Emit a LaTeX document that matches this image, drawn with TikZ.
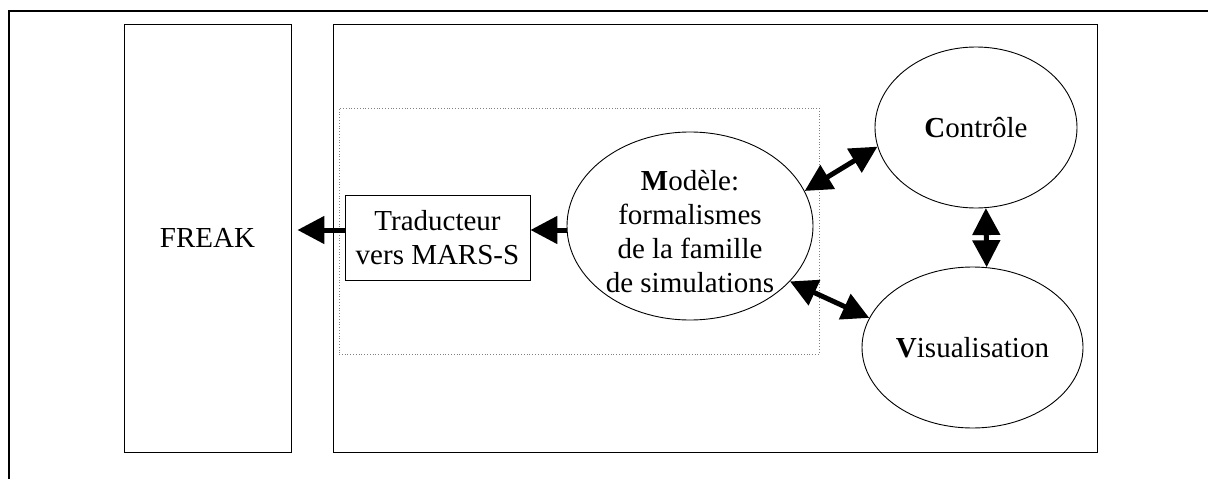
\documentclass[tikz,border=0pt]{standalone}
\usepackage{fontspec}
\setmainfont{Liberation Serif}
\usetikzlibrary{shapes.geometric,arrows.meta}
\begin{document}
\begin{tikzpicture}[x=1pt,y=-1pt,
  every node/.style={font=\fontsize{29}{34}\selectfont},
  box/.style={draw,line width=0.9pt,inner sep=0pt},
  oval/.style={draw,ellipse,line width=0.9pt,inner sep=0pt,align=center},
  tipk/.tip={Triangle[length=27pt 0 0,width=27pt 0 0]},
  conn/.style={line width=5pt,-tipk},
  bconn/.style={line width=5pt,tipk-tipk}]
\useasboundingbox (0,0) rectangle (1208,479);
% outer frame (top and left only)
\coordinate (ftl) at (9,11);
\coordinate (ftr) at (1210,11);
\coordinate (fbl) at (9,481);
\draw[line width=2.5pt] (ftr) -- (ftl) -- (fbl);
% boxes
\node[box,minimum width=167pt,minimum height=428pt] (freak) at (207.5,238) {FREAK};
\node[box,minimum width=764pt,minimum height=428pt] (main) at (715,238) {};
\node[draw=gray,dotted,line width=0.8pt,minimum width=480pt,minimum height=246pt,inner sep=0pt] (dot) at (579,231) {};
\node[box,minimum width=185pt,minimum height=85pt,align=center] (trad) at (437.5,237.5) {Traducteur\\vers MARS-S};
% ellipses
\node[oval,minimum width=246pt,minimum height=188pt] (mod) at (690,226) {};
\node[align=center] (modtext) at (690,232)
  {\textbf{M}odèle:\\formalismes\\de la famille\\de simulations};
\node[oval,minimum width=202pt,minimum height=161pt] (ctl) at (976,127.5) {\textbf{C}ontrôle};
\node[oval,minimum width=221pt,minimum height=161pt] (vis) at (972.5,347.5) {\textbf{V}isualisation};
% connectors
\draw[conn] (mod.west |- 0,230) -- (trad.east |- 0,230);
\draw[conn,shorten >=6pt] (trad.west |- 0,230) -- (freak.east |- 0,230);
\draw[bconn] (mod.17.4) -- (ctl.191);
\draw[bconn] (mod.-29.2) -- (vis.164);
\draw[bconn] (ctl.-83.7) -- (vis.80.8);
\end{tikzpicture}
\end{document}
